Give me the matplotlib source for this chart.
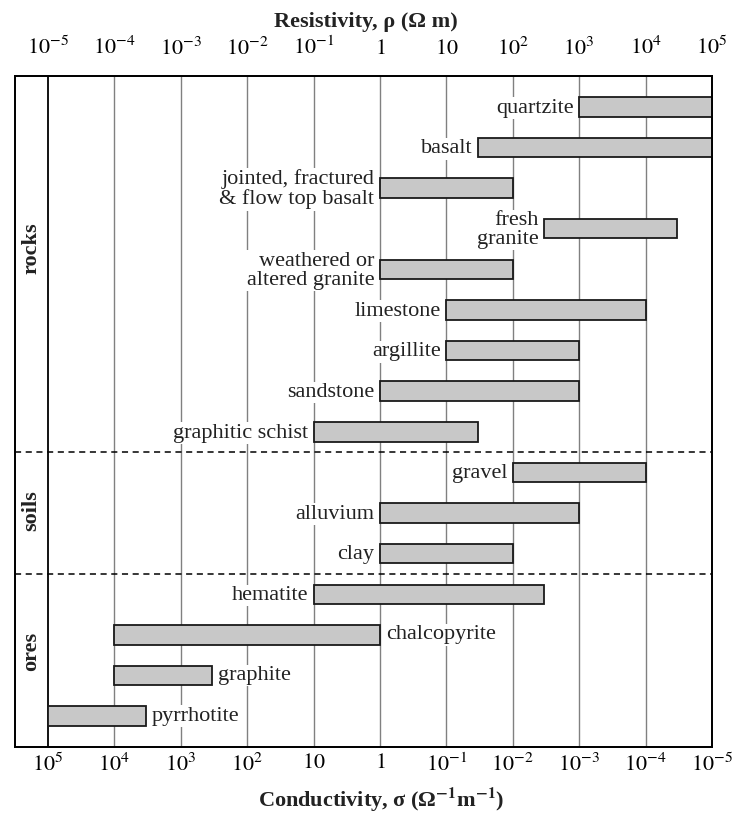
import matplotlib
matplotlib.use('Agg')
import matplotlib.pyplot as plt
import numpy as np

plt.rcParams['font.family'] = 'Liberation Serif'
plt.rcParams['mathtext.fontset'] = 'stix'

# Resistivity ranges (ohm m) for each material, top to bottom
materials = ['quartzite', 'basalt', 'jointed, fractured\n& flow top basalt',
             'fresh\ngranite', 'weathered or\naltered granite', 'limestone',
             'argillite', 'sandstone', 'graphitic schist',
             'gravel', 'alluvium', 'clay',
             'hematite', 'chalcopyrite', 'graphite', 'pyrrhotite']
rho_low = [1e3, 30, 1, 300, 1, 10, 10, 1, 0.1,
           100, 1, 1,
           0.1, 1e-4, 1e-4, 1e-5]
rho_high = [1e5, 1e5, 100, 3e4, 100, 1e4, 1e3, 1e3, 30,
            1e4, 1e3, 100,
            300, 1, 3e-3, 3e-4]
label_right = ['chalcopyrite', 'graphite', 'pyrrhotite']

groups = ['rocks', 'soils', 'ores']

decades = np.arange(-5, 6)
rho_ticklabels = ['$10^{-5}$', '$10^{-4}$', '$10^{-3}$', '$10^{-2}$', '$10^{-1}$',
                  '$1$', '$10$', '$10^{2}$', '$10^{3}$', '$10^{4}$', '$10^{5}$']
sigma_ticklabels = ['$10^{5}$', '$10^{4}$', '$10^{3}$', '$10^{2}$', '$10$', '$1$',
                    '$10^{-1}$', '$10^{-2}$', '$10^{-3}$', '$10^{-4}$', '$10^{-5}$']

fig = plt.figure(figsize=(7.37, 8.14), dpi=100)
ax = fig.add_axes([0.020, 0.0823, 0.946, 0.8243])

xmin, xmax = 10 ** -5.5, 1e5
ax.set_xscale('log')
ax.set_xlim(xmin, xmax)
ax.set_ylim(15.76, -0.76)

# vertical decade grid, label column separator in black
for d in decades[1:-1]:
    ax.axvline(10.0 ** d, color='#808080', lw=1.0, zorder=0)
ax.axvline(1e-5, color='black', lw=1.3, zorder=1)

# group separators
for yy in [8.5, 11.5]:
    ax.axhline(yy, color='black', lw=1.1, ls=(0, (4, 3)), zorder=1)

y = np.arange(len(materials))
lo = np.array(rho_low)
hi = np.array(rho_high)
ax.barh(y, hi - lo, left=lo, height=0.48, color='#c8c8c8',
        edgecolor='#1a1a1a', linewidth=1.3, zorder=3)

for yi, name, a, b in zip(y, materials, lo, hi):
    if name in label_right:
        ax.text(b * 1.22, yi, name, ha='left', va='center', fontsize=16,
                color='#222222', zorder=4,
                bbox=dict(facecolor='white', edgecolor='none', pad=1.0))
    else:
        ax.text(a / 1.22, yi + 0.03, name, ha='right', va='center', fontsize=16,
                color='#222222', multialignment='right', linespacing=1.0,
                zorder=4,
                bbox=dict(facecolor='white', edgecolor='none', pad=1.0))

# group names in the left column
xc = 10 ** -5.25
for g, yc in zip(groups, [3.47, 9.93, 13.4]):
    ax.text(xc, yc, g, rotation=90, ha='center', va='center',
            fontsize=16, fontweight='bold', color='#222222')

ax.set_yticks([])
ax.set_xticks(10.0 ** decades)
ax.set_xticklabels(sigma_ticklabels)
ax.xaxis.set_minor_locator(matplotlib.ticker.NullLocator())
ax.tick_params(axis='x', length=0, labelsize=16, pad=5)

ax2 = ax.twiny()
ax2.set_xscale('log')
ax2.set_xlim(xmin, xmax)
ax2.set_xticks(10.0 ** decades)
ax2.set_xticklabels(rho_ticklabels)
ax2.xaxis.set_minor_locator(matplotlib.ticker.NullLocator())
ax2.tick_params(axis='x', length=0, labelsize=16, pad=12)

fig.text(0.497, 1 - 22 / 814, 'Resistivity, ρ (Ω m)', fontsize=16,
         fontweight='bold', ha='center', va='center', color='#222222')
fig.text(0.517, 1 - 800 / 814,
         'Conductivity, σ (Ω$^{\\mathbf{-1}}$m$^{\\mathbf{-1}}$)',
         fontsize=16, fontweight='bold', ha='center', va='center',
         color='#222222')

for a in (ax, ax2):
    for s in a.spines.values():
        s.set_linewidth(1.3)

fig.savefig('out.png', dpi=100)
